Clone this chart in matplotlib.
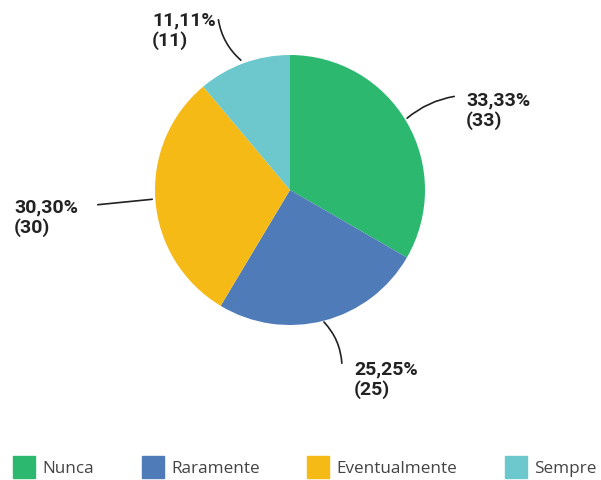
import matplotlib.pyplot as plt
from matplotlib.lines import Line2D

# dados
categorias = ['Nunca', 'Raramente', 'Eventualmente', 'Sempre']
valores = [33, 25, 30, 11]
percentuais = ['33,33%', '25,25%', '30,30%', '11,11%']
cores = ['#2DB86F', '#4F7BB8', '#F6BA17', '#6CC8CD']

plt.rcParams['font.family'] = ['Roboto', 'DejaVu Sans']

fig = plt.figure(figsize=(6.01, 4.80), dpi=100)
ax = fig.add_axes([0, 0, 1, 1])

ax.pie(valores, colors=cores, startangle=90, counterclock=False,
       center=(290, 290), radius=135, frame=True)
ax.set_xlim(0, 601)
ax.set_ylim(0, 480)
ax.set_aspect('equal')
ax.axis('off')

# rótulos (posição do texto, ponto na fatia, ponto final da linha, curvatura)
rotulos = [
    ((466, 389), (405, 360), (457, 384), 0.15),
    ((354, 120), (322, 160), (342, 114), 0.2),
    ((14, 282), (155, 281), (95, 275), 0.0),
    ((152, 469), (243, 418), (218, 463), 0.2),
]
for i, (txt, ini, fim, rad) in enumerate(rotulos):
    ax.text(txt[0], txt[1], percentuais[i] + '\n(' + str(valores[i]) + ')',
            ha='left', va='top', fontsize=14, fontweight='bold',
            color='#222222', linespacing=1.15)
    ax.annotate('', xy=ini, xytext=fim,
                arrowprops=dict(arrowstyle='-', color='#222222', lw=1.2,
                                connectionstyle='arc3,rad=%s' % rad))

handles = [Line2D([], [], marker='s', linestyle='', markersize=16,
                  markerfacecolor=c, markeredgecolor=c) for c in cores]
fig.legend(handles, categorias, loc='lower center', ncol=4,
           bbox_to_anchor=(0.508, -0.025), frameon=False,
           prop={'family': 'Open Sans', 'size': 12.3},
           labelcolor='#444444', handlelength=1.2, columnspacing=2.85,
           handletextpad=0.45)

plt.savefig('out.png', dpi=100)
